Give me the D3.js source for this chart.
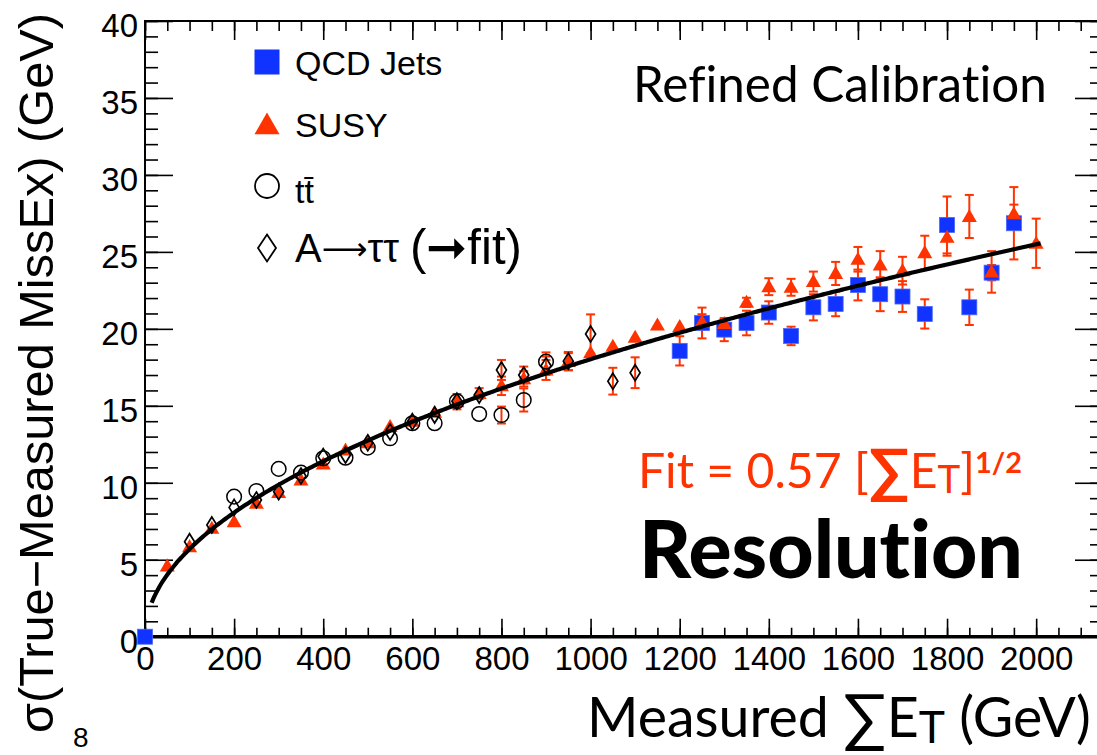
<!DOCTYPE html>
<meta charset="utf-8">
<html>
<head>
<title>MissEx resolution vs sum ET</title>
<script src="https://cdn.jsdelivr.net/npm/d3@7/dist/d3.min.js"></script>
<style>
    body { margin: 0; background: #fff; }
    svg { display: block; background: #fff; }
    .axis line { stroke: #000; stroke-width: 1.6px; }
    .helv { font-family: "Liberation Sans", Arial, sans-serif; }
    .gill { font-family: Lato, "Open Sans", sans-serif; font-variant-ligatures: none; font-feature-settings: "liga" 0; }
</style>
</head>
<body>
<svg width="1097" height="755"></svg>
<script>
    // ---- values ----
    // QCD jets (blue squares)
    const qcdEt    = [0, 1200, 1250, 1300, 1350, 1400, 1450, 1500, 1550, 1600, 1650, 1700, 1750, 1800, 1850, 1900, 1950]
    const qcdSigma = [0, 18.57, 20.38, 19.95, 20.38, 21.06, 19.54, 21.4, 21.62, 22.85, 22.25, 22.1, 20.97, 26.75, 21.4, 23.65, 26.86]
    const qcdErr   = [0, 0.95, 1.0, 0.75, 0.8, 0.73, 0.6, 0.85, 0.8, 1.0, 1.1, 1.0, 0.95, 1.85, 1.15, 0.5, 2.35]

    // SUSY (red triangles)
    const susyEt    = [50, 100, 150, 200, 250, 300, 350, 400, 450, 500, 550, 600, 650, 700, 750, 800, 850, 900, 950, 1000,
                       1050, 1100, 1150, 1200, 1250, 1300, 1350, 1400, 1450, 1500, 1550, 1600, 1650, 1700, 1750, 1800, 1850, 1900, 1950, 2000]
    const susySigma = [4.6, 5.85, 7.04, 7.47, 8.67, 9.36, 10.18, 11.22, 12.13, 12.6, 13.65, 14.0, 14.58, 15.27, 15.8, 16.3, 16.75, 17.33, 17.87, 18.45,
                       18.87, 19.45, 20.25, 20.15, 20.45, 20.35, 21.72, 22.74, 22.7, 23.07, 23.6, 24.52, 24.15, 23.78, 24.95, 25.95, 27.3, 23.7, 27.47, 25.56]
    const susyErr   = [0, 0, 0, 0, 0, 0, 0, 0, 0, 0, 0, 0, 0, 0.5, 0.35, 0.6, 0.5, 0.65, 0.55, 0,
                       0, 0, 0, 0, 0.5, 0.3, 0.3, 0.55, 0.55, 0.65, 0.75, 0.8, 0.9, 0.9, 1.1, 1.2, 1.4, 1.35, 0.6, 1.6]

    // ttbar (open circles)
    const ttEt    = [200, 250, 300, 350, 400, 450, 500, 550, 600, 650, 700, 750, 800, 850, 900]
    const ttSigma = [9.1, 9.47, 10.9, 10.66, 11.59, 11.63, 12.28, 12.89, 13.87, 13.87, 15.3, 14.47, 14.4, 15.38, 17.87]
    const ttErr   = [0, 0, 0, 0, 0, 0, 0, 0, 0, 0, 0, 0, 0.55, 0.75, 0.6]

    // A -> tautau (open diamonds)
    const ataEt    = [100, 150, 200, 250, 300, 350, 400, 450, 500, 550, 600, 650, 700, 750, 800, 850, 900, 950, 1000, 1050, 1100]
    const ataSigma = [6.17, 7.26, 8.4, 8.88, 9.42, 10.44, 11.7, 11.8, 12.6, 13.3, 13.97, 14.4, 15.3, 15.7, 17.33, 17.0, 17.6, 17.9, 19.67, 16.6, 17.15]
    const ataErr   = [0, 0, 0, 0, 0, 0, 0, 0, 0, 0, 0, 0, 0, 0, 0.65, 0.55, 0.6, 0.6, 1.27, 0.87, 1.0]

    // fit: sigma = 0.57 * sqrt(sumEt)
    const fitCoef = 0.57
    const fitRange = [15, 2010]

    // axis ticks
    const xMajor = [0, 200, 400, 600, 800, 1000, 1200, 1400, 1600, 1800, 2000]
    const yMajor = [0, 5, 10, 15, 20, 25, 30, 35, 40]

    const red = "#ff3300"
    const blue = "#1033ff"

    // ***************************************
    //        scales
    // ***************************************
    const svg = d3.select("svg")
    const x = d3.scaleLinear().domain([0, 2150]).range([145, 1103])
    const y = d3.scaleLinear().domain([0, 40]).range([636.7, 21])
    const xMinor = d3.range(0, 2151, 50)
    const yMinor = d3.range(0, 41, 1)

    // ***************************************
    //        axes (ticks on all four sides)
    // ***************************************
    const axB = svg.append("g").attr("class", "axis").attr("transform", `translate(0,${y(0)})`)
    axB.call(d3.axisBottom(x).tickValues(xMinor).tickSize(-9).tickFormat(""))
    axB.append("g").call(d3.axisBottom(x).tickValues(xMajor).tickSize(-18).tickPadding(10).tickFormat(d3.format("d")))
    const axT = svg.append("g").attr("class", "axis").attr("transform", `translate(0,${y(40)})`)
    axT.call(d3.axisTop(x).tickValues(xMinor).tickSize(-10).tickFormat(""))
    axT.append("g").call(d3.axisTop(x).tickValues(xMajor).tickSize(-19).tickFormat(""))

    const axL = svg.append("g").attr("class", "axis").attr("transform", `translate(${x(0)},0)`)
    axL.call(d3.axisLeft(y).tickValues(yMinor).tickSize(-13).tickFormat(""))
    axL.append("g").call(d3.axisLeft(y).tickValues(yMajor).tickSize(-28).tickPadding(7).tickFormat(d3.format("d")))
    const axR = svg.append("g").attr("class", "axis").attr("transform", `translate(${x(2150)},0)`)
    axR.call(d3.axisRight(y).tickValues(yMinor).tickSize(-13).tickFormat(""))
    axR.append("g").call(d3.axisRight(y).tickValues(yMajor).tickSize(-28).tickFormat(""))

    svg.selectAll(".axis .domain").remove()
    svg.selectAll(".axis text")
        .style("font-family", "'Liberation Sans', Arial, sans-serif")
        .style("font-size", "33px")
        .attr("fill", "#000")
    axL.selectAll("text").attr("dy", "0.48em")

    // frame
    svg.append("rect")
        .attr("x", x(0)).attr("y", y(40))
        .attr("width", x(2150) - x(0)).attr("height", y(0) - y(40))
        .attr("fill", "none").attr("stroke", "#000").attr("stroke-width", 2)
    svg.append("line")
        .attr("x1", x(0)).attr("x2", x(2150)).attr("y1", y(0)).attr("y2", y(0))
        .attr("stroke", "#000").attr("stroke-width", 3.5)

    // ***************************************
    //        markers
    // ***************************************
    function rows(xs, ys, es) { return xs.map((d, i) => ({et: d, s: ys[i], e: es[i]})) }
    const qcd = rows(qcdEt, qcdSigma, qcdErr)
    const susy = rows(susyEt, susySigma, susyErr)
    const tt = rows(ttEt, ttSigma, ttErr)
    const ata = rows(ataEt, ataSigma, ataErr)

    const errG = svg.append("g").attr("stroke", red).attr("stroke-width", 2)
    const allErr = [].concat(qcd, susy, tt, ata).filter(d => d.e > 0)
    errG.selectAll(".bar").data(allErr).enter().append("line")
        .attr("x1", d => x(d.et)).attr("x2", d => x(d.et))
        .attr("y1", d => y(d.s - d.e)).attr("y2", d => y(d.s + d.e))
    errG.selectAll(".capHi").data(allErr).enter().append("line")
        .attr("x1", d => x(d.et) - 4.5).attr("x2", d => x(d.et) + 4.5)
        .attr("y1", d => y(d.s + d.e)).attr("y2", d => y(d.s + d.e))
    errG.selectAll(".capLo").data(allErr).enter().append("line")
        .attr("x1", d => x(d.et) - 4.5).attr("x2", d => x(d.et) + 4.5)
        .attr("y1", d => y(d.s - d.e)).attr("y2", d => y(d.s - d.e))

    const sq = 15
    svg.append("g").selectAll("rect").data(qcd).enter().append("rect")
        .attr("x", d => x(d.et) - sq / 2).attr("y", d => y(d.s) - sq / 2)
        .attr("width", sq).attr("height", sq)
        .attr("fill", blue).attr("stroke", "#4a66ff").attr("stroke-width", 0.8)

    function triPath(w) {
        const h = w * 0.87
        return `M0,${-h * 0.58}L${w / 2},${h * 0.42}L${-w / 2},${h * 0.42}Z`
    }
    function diaPath(w, h) {
        return `M0,${-h / 2}L${w / 2},0L0,${h / 2}L${-w / 2},0Z`
    }

    svg.append("g").selectAll("path").data(susy).enter().append("path")
        .attr("transform", d => `translate(${x(d.et)},${y(d.s)})`)
        .attr("d", triPath(15)).attr("fill", red)

    svg.append("g").selectAll("circle").data(tt).enter().append("circle")
        .attr("cx", d => x(d.et)).attr("cy", d => y(d.s)).attr("r", 7.3)
        .attr("fill", "none").attr("stroke", "#000").attr("stroke-width", 1.5)

    svg.append("g").selectAll("path").data(ata).enter().append("path")
        .attr("transform", d => `translate(${x(d.et)},${y(d.s)})`)
        .attr("d", diaPath(10, 16))
        .attr("fill", "none").attr("stroke", "#000").attr("stroke-width", 1.7)

    // fit curve
    const fitEt = d3.range(fitRange[0], fitRange[1] + 1, 5)
    svg.append("path")
        .datum(fitEt)
        .attr("d", d3.line().x(d => x(d)).y(d => y(fitCoef * Math.sqrt(d))).curve(d3.curveMonotoneX))
        .attr("fill", "none").attr("stroke", "#000").attr("stroke-width", 4.2)

    // ***************************************
    //        legend
    // ***************************************
    function fitWidth(t, w) {
        const len = t.node().getComputedTextLength()
        t.attr("font-size", parseFloat(t.attr("font-size")) * w / len)
        return t
    }

    const leg = svg.append("g")
    const lx = 267
    leg.append("rect").attr("x", lx - 12.5).attr("y", 62 - 12.5).attr("width", 25).attr("height", 25).attr("fill", blue)
    leg.append("path").attr("transform", `translate(${lx},125)`).attr("d", triPath(25)).attr("fill", red)
    leg.append("circle").attr("cx", lx).attr("cy", 186).attr("r", 12)
        .attr("fill", "none").attr("stroke", "#000").attr("stroke-width", 1.8)
    leg.append("path").attr("transform", `translate(${lx},248)`).attr("d", diaPath(18, 27))
        .attr("fill", "none").attr("stroke", "#000").attr("stroke-width", 1.8)

    const legText = [["QCD Jets", 75], ["SUSY", 137], ["tt\u0304", 203]]
    leg.selectAll("text.lt").data(legText).enter().append("text")
        .attr("class", "helv lt").attr("x", 295).attr("y", d => d[1])
        .attr("font-size", 34).text(d => d[0])
    const ataLab = leg.append("text").attr("class", "helv").attr("x", 295).attr("y", 262).attr("font-size", 34)
    ataLab.append("tspan").text("A")
    ataLab.append("tspan").attr("font-family", "DejaVu Sans").attr("font-size", "0.8em").attr("dy", "-0.05em").text("\u27F6")
    ataLab.append("tspan").attr("dy", "0.04em").text("\u03c4\u03c4")
    fitWidth(ataLab, 104)
    fitWidth(leg.append("text").attr("class", "helv").attr("x", 410).attr("y", 264).attr("font-size", 36)
        .text("(\u279Efit)"), 112)

    // ***************************************
    //        annotations and titles
    // ***************************************
    fitWidth(svg.append("text").attr("class", "gill").attr("x", 633).attr("y", 102)
        .attr("font-size", 50).text("Refined Calibration"), 414)

    const fit = svg.append("text").attr("class", "gill").attr("x", 638).attr("y", 488)
        .attr("font-size", 48).attr("fill", red)
    fit.append("tspan").text("Fit = 0.57 [")
    fit.append("tspan").attr("font-size", "1.25em").attr("font-weight", 700).attr("dy", "0.06em").text("\u2211")
    fit.append("tspan").attr("dy", "-0.075em").text("E")
    fit.append("tspan").attr("font-size", "0.8em").attr("dy", "0.12em").text("T")
    fit.append("tspan").attr("dy", "-0.1em").text("]")
    fit.append("tspan").attr("font-size", "0.6em").attr("font-weight", 700).attr("dy", "-0.5em").text("1/2")
    fitWidth(fit, 384)

    fitWidth(svg.append("text").attr("class", "gill").attr("x", 639).attr("y", 578)
        .attr("font-size", 66).attr("font-weight", 900).text("Resolution"), 384)

    const xt = svg.append("text").attr("class", "gill").attr("x", 587).attr("y", 737).attr("font-size", 50)
    xt.append("tspan").text("Measured ")
    xt.append("tspan").attr("font-size", "1.15em").attr("dy", "0.05em").text("\u2211")
    xt.append("tspan").attr("dy", "-0.05em").text("E")
    xt.append("tspan").attr("font-size", "0.8em").attr("dy", "0.12em").text("T")
    xt.append("tspan").attr("dy", "-0.1em").text(" (GeV)")
    fitWidth(xt, 504)

    const yt = svg.append("text").attr("class", "helv")
        .attr("transform", "translate(53,733) rotate(-90)")
        .attr("font-size", 49)
        .text("\u03c3(True\u2212Measured MissEx)  (GeV)")
    fitWidth(yt, 720)

    svg.append("text").attr("class", "helv").attr("x", 73).attr("y", 747).attr("font-size", 28).text("8")
</script>
</body>
</html>
